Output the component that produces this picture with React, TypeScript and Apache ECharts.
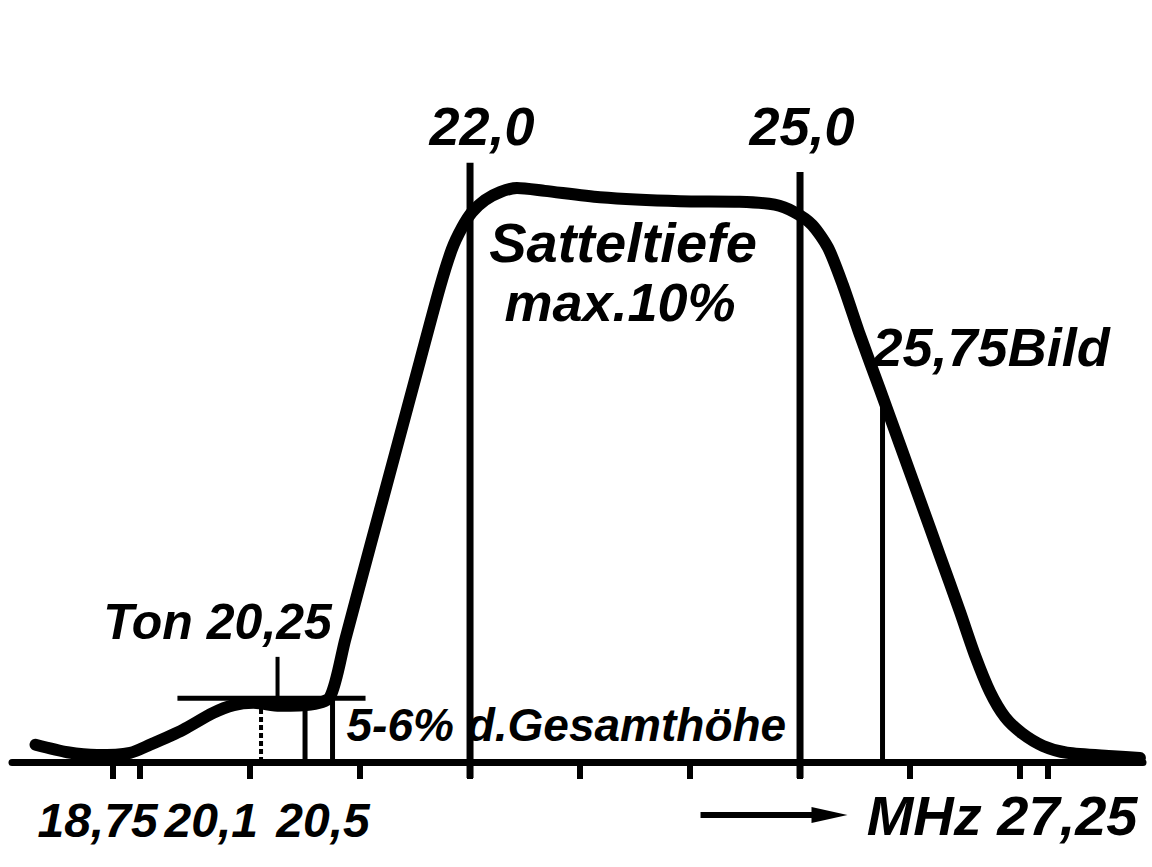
import React, { useEffect, useRef } from 'react';
import * as echarts from 'echarts';

// Frequency response curve (MHz, relative level in % of total height)
const curveMHz = [18.05, 18.34, 18.61, 18.91, 19.09, 19.39, 19.66, 19.85, 20.03, 20.27, 20.55, 20.727, 20.864, 21.09, 21.318, 21.545, 21.727, 21.836, 21.927, 22.018, 22.136, 22.273, 22.427, 22.68, 23.18, 23.91, 24.45, 24.77, 24.95, 25.11, 25.255, 25.39, 25.545, 25.727, 25.909, 26.09, 26.27, 26.455, 26.59, 26.727, 26.864, 27.018, 27.209, 27.427, 27.845, 28.09];
const curveLevel = [3.0, 1.7, 1.2, 1.6, 3.0, 5.6, 8.5, 9.9, 10.3, 9.8, 10.0, 11.3, 21.2, 37.4, 53.6, 69.8, 82.7, 89.3, 93.0, 95.7, 97.8, 99.2, 99.9, 99.4, 98.3, 97.6, 97.5, 97.0, 95.7, 93.5, 89.5, 83.0, 74.3, 64.8, 55.2, 45.6, 36.0, 26.1, 18.6, 12.2, 7.8, 5.0, 2.8, 1.6, 1.0, 0.7];

// Axis ticks and labels
const tickMHz = [18.75, 19, 20, 21, 22, 23, 24, 25, 26, 27, 27.25];
const bottomLabelMHz = [18.75, 20.1, 20.5];
const bottomLabelText = ['18,75', '20,1', '20,5'];
const axisEndMHz = 27.25;
const axisEndText = 'MHz 27,25';

// Pass band edges
const passbandEdgesMHz = [22.0, 25.0];
const passbandEdgeText = ['22,0', '25,0'];
const passbandLineTop = [104.3, 102.7];
const passbandLineBottom = -2.8;

// Picture carrier
const pictureCarrierMHz = 25.75;
const pictureCarrierLevel = 65.3;
const pictureCarrierText = '25,75Bild';

// Sound carrier / trap region
const soundCarrierMHz = 20.25;
const soundCarrierText = 'Ton 20,25';
const soundTrapLevel = 11.1;
const soundPointerTop = 18.3;
const soundTrapSpanMHz = [19.34, 21.05];
const soundTrapMarkersMHz = [20.1, 20.5, 20.75];
const skirtText = '5-6% d.Gesamthöhe';

// Saddle annotation
const saddleText = ['Satteltiefe', 'max.10%'];

const X_MIN = 17.836;
const X_MAX = 28.118;
const Y_MIN = 0;
const Y_MAX = 110;

const FONT = '"Liberation Sans", Arial, sans-serif';

export default function App() {
  const ref = useRef<HTMLDivElement>(null);

  useEffect(() => {
    if (!ref.current) return;
    const chart = echarts.init(ref.current, null, { renderer: 'svg' });

    const black = '#000';
    const guide = (pts: number[][], width: number, type: any = 'solid', z = 2) => ({
      type: 'line',
      data: pts,
      showSymbol: false,
      symbol: 'none',
      clip: false,
      silent: true,
      z,
      lineStyle: { color: black, width, type, cap: 'butt' },
    });

    const guides: any[] = [];
    passbandEdgesMHz.forEach((f, i) =>
      guides.push(guide([[f, passbandLineBottom], [f, passbandLineTop[i]]], 7))
    );
    guides.push(guide([[pictureCarrierMHz, 0], [pictureCarrierMHz, pictureCarrierLevel]], 5));
    guides.push(guide([[soundTrapSpanMHz[0], soundTrapLevel], [soundTrapSpanMHz[1], soundTrapLevel]], 5));
    guides.push(guide([[soundCarrierMHz, soundTrapLevel], [soundCarrierMHz, soundPointerTop]], 4));
    soundTrapMarkersMHz.forEach((f, i) =>
      guides.push(guide([[f, 0], [f, soundTrapLevel]], i === 0 ? 4 : 5, i === 0 ? [5, 3] : 'solid'))
    );

    chart.setOption({
      animation: false,
      backgroundColor: '#fff',
      grid: { left: 12, right: 9, top: 130, bottom: 105, containLabel: false },
      xAxis: {
        type: 'value',
        min: X_MIN,
        max: X_MAX,
        splitLine: { show: false },
        axisLine: { show: true, onZero: false, lineStyle: { color: black, width: 7 } },
        axisTick: { show: true, customValues: tickMHz, length: 17, lineStyle: { color: black, width: 6 } },
        axisLabel: { show: false },
      },
      yAxis: {
        type: 'value',
        min: Y_MIN,
        max: Y_MAX,
        show: false,
        splitLine: { show: false },
      },
      series: [
        ...guides,
        {
          type: 'line',
          name: 'Durchlasskurve',
          data: curveMHz.map((f, i) => [f, curveLevel[i]]),
          smooth: 0.25,
          showSymbol: false,
          symbol: 'none',
          clip: false,
          silent: true,
          z: 5,
          lineStyle: { color: black, width: 12, cap: 'round', join: 'round' },
        },
      ],
    });

    const px = (x: number, y: number) => chart.convertToPixel({ gridIndex: 0 }, [x, y]) as number[];
    const txt = (text: string, p: number[], dx: number, dy: number, size: number, align = 'center') => ({
      type: 'text',
      x: p[0] + dx,
      y: p[1] + dy,
      silent: true,
      z: 10,
      style: {
        text,
        fill: black,
        fontFamily: FONT,
        fontWeight: 'bold',
        fontStyle: 'italic',
        fontSize: size,
        align,
        verticalAlign: 'middle',
      },
    });

    const graphics: any[] = [];
    passbandEdgesMHz.forEach((f, i) => {
      const p = px(f, passbandLineTop[i]);
      graphics.push(txt(passbandEdgeText[i], p, i === 0 ? 12 : 2, i === 0 ? -37 : -46, 54));
    });
    const mid = px((passbandEdgesMHz[0] + passbandEdgesMHz[1]) / 2, 100);
    graphics.push(txt(saddleText[0], mid, -12, 55, 56));
    graphics.push(txt(saddleText[1], mid, -15, 115, 54));
    graphics.push(txt(pictureCarrierText, px(pictureCarrierMHz, pictureCarrierLevel), -10, -40, 54, 'left'));
    graphics.push(txt(soundCarrierText, px(soundCarrierMHz, soundPointerTop), -60, -35, 50));
    const lblDx = [-15, -3, 18];
    const lblAlign = ['center', 'right', 'center'];
    bottomLabelMHz.forEach((f, i) => graphics.push(txt(bottomLabelText[i], px(f, 0), lblDx[i], 58, 48, lblAlign[i])));
    graphics.push(txt(skirtText, px(soundTrapMarkersMHz[2], 0), 14, -37, 46, 'left'));
    const endP = px(axisEndMHz, 0);
    graphics.push(txt(axisEndText, endP, 90, 53, 56, 'right'));
    // arrow pointing to increasing frequency
    graphics.push({
      type: 'line',
      silent: true,
      shape: { x1: endP[0] - 347, y1: endP[1] + 53, x2: endP[0] - 222, y2: endP[1] + 53 },
      style: { stroke: black, lineWidth: 6 },
    });
    graphics.push({
      type: 'polygon',
      silent: true,
      shape: {
        points: [
          [endP[0] - 236, endP[1] + 45],
          [endP[0] - 200, endP[1] + 53],
          [endP[0] - 236, endP[1] + 61],
        ],
      },
      style: { fill: black },
    });

    chart.setOption({ graphic: graphics });

    return () => chart.dispose();
  }, []);

  return (
    <div
      ref={ref}
      style={{ position: 'fixed', left: 0, top: 0, width: 1152, height: 867, background: '#fff' }}
    />
  );
}
